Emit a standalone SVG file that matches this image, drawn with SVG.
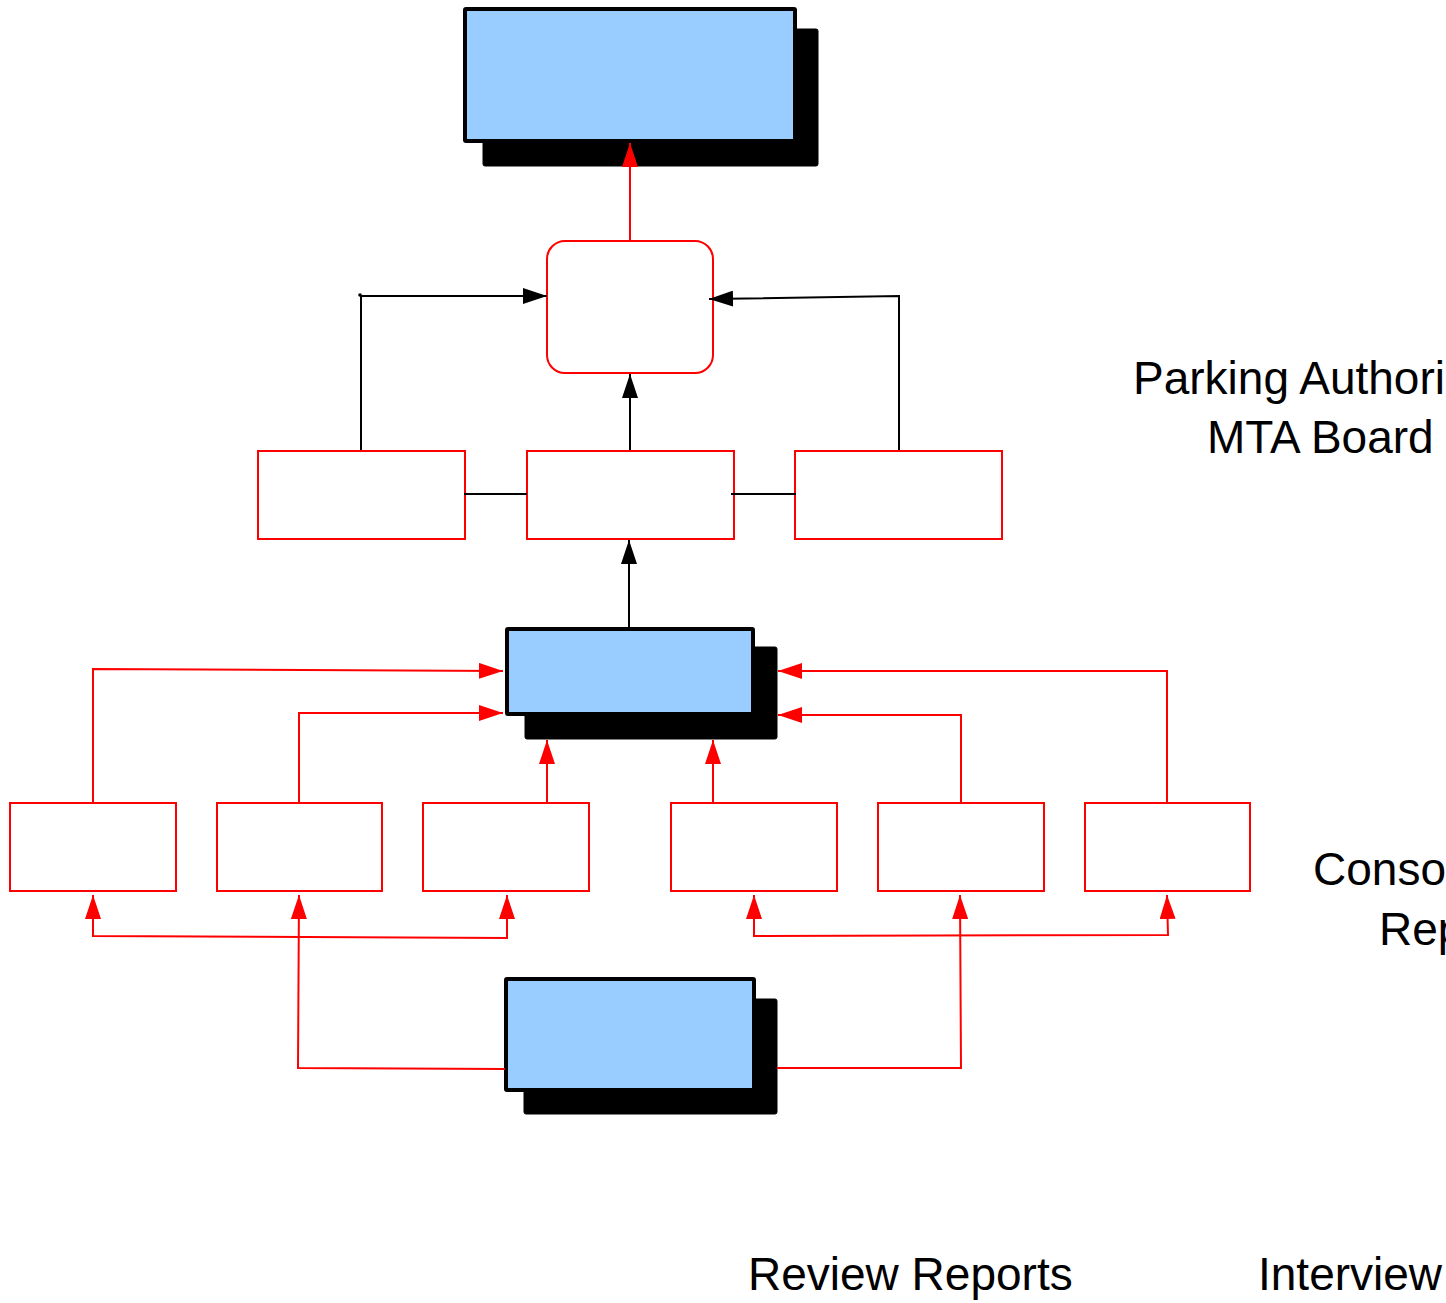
<svg xmlns="http://www.w3.org/2000/svg" width="1446" height="1303" viewBox="0 0 1446 1303">
<style>
.blue{fill:#99ccff;stroke:#000;stroke-width:4}
.shadow{fill:#000;stroke:#000;stroke-width:1}
.rbox{fill:#fff;stroke:#ff0000;stroke-width:2}
.rc{fill:none;stroke:#ff0000;stroke-width:2}
.bc{fill:none;stroke:#000;stroke-width:2}
.ra{marker-end:url(#ah-red)}
.ba{marker-end:url(#ah-black)}
.lbl{font-family:"Liberation Sans",Arial,sans-serif;font-size:46px;fill:#000}
</style>
<defs>
<marker id="ah-red" markerUnits="userSpaceOnUse" markerWidth="24" markerHeight="16" refX="24" refY="8" orient="auto-start-reverse" viewBox="0 0 24 16"><path d="M0,0 L24,8 L0,16 z" fill="#ff0000"/></marker>
<marker id="ah-black" markerUnits="userSpaceOnUse" markerWidth="24" markerHeight="16" refX="24" refY="8" orient="auto" viewBox="0 0 24 16"><path d="M0,0 L24,8 L0,16 z" fill="#000"/></marker>
</defs>
<rect width="1446" height="1303" fill="#fff"/>
<g id="top-box"><rect class="shadow" x="483" y="29" width="335" height="137" rx="2"/><rect class="blue" x="465" y="9" width="330" height="132" rx="1"/></g>
<g id="round-node"><rect class="rbox" x="547" y="241" width="166" height="132" rx="18"/></g>
<g id="mid-left"><rect class="rbox" x="258" y="451" width="207" height="88"/></g>
<g id="mid-center"><rect class="rbox" x="527" y="451" width="207" height="88"/></g>
<g id="mid-right"><rect class="rbox" x="795" y="451" width="207" height="88"/></g>
<g id="mid-box"><rect class="shadow" x="525" y="647" width="252" height="92" rx="2"/><rect class="blue" x="507" y="629" width="246" height="85" rx="1"/></g>
<g id="low-1"><rect class="rbox" x="10" y="803" width="166" height="88"/></g>
<g id="low-2"><rect class="rbox" x="217" y="803" width="165" height="88"/></g>
<g id="low-3"><rect class="rbox" x="423" y="803" width="166" height="88"/></g>
<g id="low-4"><rect class="rbox" x="671" y="803" width="166" height="88"/></g>
<g id="low-5"><rect class="rbox" x="878" y="803" width="166" height="88"/></g>
<g id="low-6"><rect class="rbox" x="1085" y="803" width="165" height="88"/></g>
<g id="bottom-box"><rect class="shadow" x="524" y="999" width="253" height="115" rx="2"/><rect class="blue" x="506" y="979" width="248" height="111" rx="1"/></g>
<g id="connectors">
<path class="rc ra" d="M630,240 L630,143"/>
<path class="bc ba" d="M361,450 L361,296 L547,296"/>
<circle cx="360" cy="295" r="1.8" fill="#000"/>
<path class="bc ba" d="M899,450 L899,296 L709,299"/>
<path class="bc ba" d="M630,450 L630,374"/>
<path class="bc ba" d="M629,627 L629,540"/>
<path class="bc" d="M464,494 L527,494"/>
<path class="bc" d="M731,494 L796,494"/>
<path class="rc ra" d="M93,803 L93,669 L503,671"/>
<path class="rc ra" d="M299,803 L299,713 L503,713"/>
<path class="rc ra" d="M547,803 L547,740"/>
<path class="rc ra" d="M713,803 L713,740"/>
<path class="rc ra" d="M961,803 L961,715 L778,715"/>
<path class="rc ra" d="M1167,803 L1167,671 L778,671"/>
<path class="rc" d="M93,895 L93,936 L507,938 L507,895" marker-start="url(#ah-red)" marker-end="url(#ah-red)"/>
<path class="rc ra" d="M505,1069 L298,1068 L299,895"/>
<path class="rc" d="M754,895 L754,936 L1168,935 L1167,895" marker-start="url(#ah-red)" marker-end="url(#ah-red)"/>
<path class="rc ra" d="M777,1068 L961,1068 L960,895"/>
</g>
<g id="labels">
<text class="lbl" x="1133" y="394">Parking Authori</text>
<text class="lbl" x="1207" y="453">MTA Board</text>
<text class="lbl" x="1313" y="885">Conso</text>
<text class="lbl" x="1379" y="945">Rep</text>
<text class="lbl" x="748" y="1290">Review Reports</text>
<text class="lbl" x="1258" y="1290">Interview</text>
</g>
</svg>
